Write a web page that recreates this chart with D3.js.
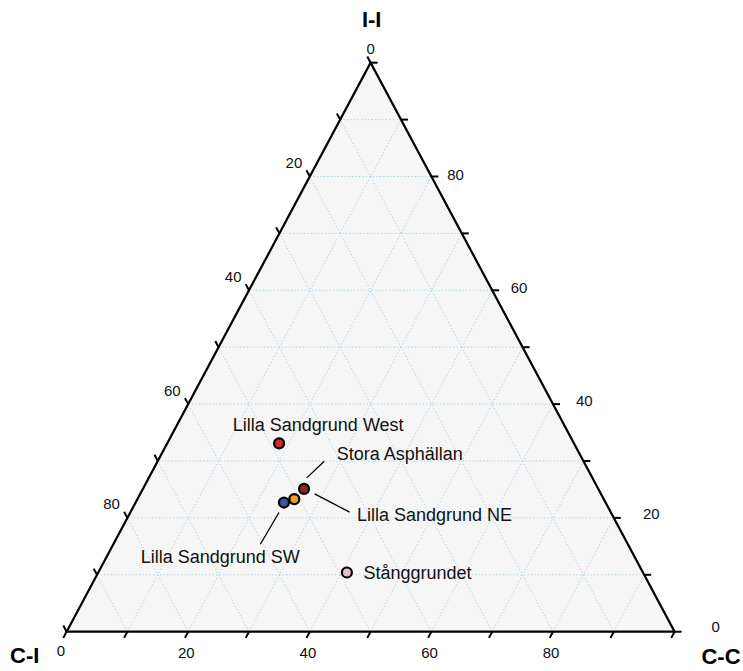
<!DOCTYPE html>
<html>
<head>
<meta charset="utf-8">
<script src="https://cdn.jsdelivr.net/npm/d3@7"></script>
<style>
  body { margin: 0; background: #fff; }
  svg { display: block; font-family: 'Liberation Sans', Arial, sans-serif; }
</style>
</head>
<body>
<svg id="chart" width="743" height="671"></svg>
<script>
// data (percent of each component)
const sites = ['Lilla Sandgrund West', 'Stora Asphällan', 'Lilla Sandgrund NE', 'Lilla Sandgrund SW', 'Stånggrundet'];
const iiVals = [33.1, 25.1, 23.3, 22.7, 10.4];
const ccVals = [18.4, 26.5, 25.8, 24.4, 40.9];
const ciVals = [48.5, 48.4, 50.9, 52.9, 48.7];
const siteColors = ['#d12a2a', '#8b2626', '#e8a21d', '#3656a6', '#ebb9c5'];
const tickValues = [0, 10, 20, 30, 40, 50, 60, 70, 80, 90, 100];
const labelValues = [0, 20, 40, 60, 80];
const gridValues = [10, 20, 30, 40, 50, 60, 70, 80, 90];

// label placement for the site names (pixel nudges from the point)
const labelNudge = [
  { dx: -46.3, dy: -12.3, line: null },
  { dx: 32.7, dy: -28.7, line: [2.7, -11, 20.3, -27.7] },
  { dx: 62.7, dy: 21.4, line: [20.3, -5.3, 55.3, 13] },
  { dx: -143.3, dy: 60.4, line: [-5, 10, -23.6, 41.7] },
  { dx: 16.6, dy: 6, line: null }
];

const width = 743;
const height = 671;
const mLeft = 66.6, mRight = 674.6, mTop = 62.7, mBottom = 631.7;

const xScale = d3.scaleLinear().domain([0, 100]).range([mLeft, mRight]);
const yScale = d3.scaleLinear().domain([0, 100]).range([mBottom, mTop]);

// ternary -> pixel (ci, ii, cc)
const proj = (ci, ii, cc) => {
  const s = ci + ii + cc;
  const i = ii / s * 100, c = cc / s * 100;
  return [xScale(c + i / 2), yScale(i)];
};

const svg = d3.select('#chart');
svg.append('rect').attr('width', width).attr('height', height).attr('fill', '#fff');

const corners = [proj(100, 0, 0), proj(0, 100, 0), proj(0, 0, 100)];

svg.append('path')
  .attr('d', d3.line()(corners) + 'Z')
  .attr('fill', '#f6f6f6');

// grid
const gridSegs = [];
gridValues.forEach(k => {
  gridSegs.push([proj(100 - k, k, 0), proj(0, k, 100 - k)]);   // const I-I
  gridSegs.push([proj(100 - k, 0, k), proj(0, 100 - k, k)]);   // const C-C
  gridSegs.push([proj(k, 0, 100 - k), proj(k, 100 - k, 0)]);   // const C-I
});
svg.append('g')
  .selectAll('line')
  .data(gridSegs)
  .join('line')
  .attr('x1', d => d[0][0]).attr('y1', d => d[0][1])
  .attr('x2', d => d[1][0]).attr('y2', d => d[1][1])
  .attr('stroke', '#a8d4ea')
  .attr('stroke-width', 1)
  .attr('stroke-dasharray', '1.3,2.2');

svg.append('path')
  .attr('d', d3.line()(corners) + 'Z')
  .attr('fill', 'none')
  .attr('stroke', '#000')
  .attr('stroke-width', 2.2)
  .attr('stroke-linejoin', 'miter');

// tick directions
const unit = (a, b) => {
  const dx = b[0] - a[0], dy = b[1] - a[1];
  const l = Math.hypot(dx, dy);
  return [dx / l, dy / l];
};
const tickLen = 7;
const leftDir = unit(corners[2], corners[1]);   // up-left, parallel to right edge
const bottomDir = unit(corners[1], corners[0]); // down-left, parallel to left edge
const rightDir = [1, 0];

const axes = [
  { name: 'ci', pos: v => proj(v, 100 - v, 0), dir: leftDir },
  { name: 'ii', pos: v => proj(0, v, 100 - v), dir: rightDir },
  { name: 'cc', pos: v => proj(100 - v, 0, v), dir: bottomDir }
];

axes.forEach(ax => {
  svg.append('g')
    .selectAll('line')
    .data(tickValues)
    .join('line')
    .attr('x1', v => ax.pos(v)[0])
    .attr('y1', v => ax.pos(v)[1])
    .attr('x2', v => ax.pos(v)[0] + ax.dir[0] * tickLen)
    .attr('y2', v => ax.pos(v)[1] + ax.dir[1] * tickLen)
    .attr('stroke', '#000')
    .attr('stroke-width', 2);
});

const tickFont = 15;

// left axis labels (C-I)
svg.append('g')
  .selectAll('text')
  .data(labelValues)
  .join('text')
  .attr('x', v => v === 0 ? axes[0].pos(v)[0] : axes[0].pos(v)[0] - 7.5)
  .attr('y', v => axes[0].pos(v)[1] - 14 + 5.4)
  .attr('text-anchor', v => v === 0 ? 'middle' : 'end')
  .attr('font-size', tickFont)
  .attr('fill', '#111')
  .text(v => v);

// right axis labels (I-I)
svg.append('g')
  .selectAll('text')
  .data(labelValues)
  .join('text')
  .attr('x', v => axes[1].pos(v)[0] + 15 + 0.0022 * (100 - v) * (100 - v))
  .attr('y', v => axes[1].pos(v)[1] - (1 + 0.04 * (100 - v)) + 5.4)
  .attr('text-anchor', 'start')
  .attr('font-size', tickFont)
  .attr('fill', '#111')
  .text(v => v);

// bottom axis labels (C-C)
svg.append('g')
  .selectAll('text')
  .data(labelValues)
  .join('text')
  .attr('x', v => axes[2].pos(v)[0] - (v === 0 ? 5.6 : 1.9))
  .attr('y', v => v === 0 ? 655.7 : 657.7)
  .attr('text-anchor', 'middle')
  .attr('font-size', tickFont)
  .attr('fill', '#111')
  .text(v => v);

// axis titles
const titles = [
  { t: 'I-I', x: 371.7, y: 26.7 },
  { t: 'C-I', x: 24.7, y: 663.3 },
  { t: 'C-C', x: 721, y: 664 }
];
svg.append('g')
  .selectAll('text')
  .data(titles)
  .join('text')
  .attr('x', d => d.x).attr('y', d => d.y)
  .attr('text-anchor', 'middle')
  .attr('font-size', 22)
  .attr('font-weight', 'bold')
  .attr('fill', '#000')
  .text(d => d.t);

// points
const pts = sites.map((s, i) => ({
  name: s,
  color: siteColors[i],
  xy: proj(ciVals[i], iiVals[i], ccVals[i]),
  nudge: labelNudge[i]
}));

svg.append('g')
  .selectAll('line')
  .data(pts.filter(d => d.nudge.line))
  .join('line')
  .attr('x1', d => d.xy[0] + d.nudge.line[0])
  .attr('y1', d => d.xy[1] + d.nudge.line[1])
  .attr('x2', d => d.xy[0] + d.nudge.line[2])
  .attr('y2', d => d.xy[1] + d.nudge.line[3])
  .attr('stroke', '#000')
  .attr('stroke-width', 1.3);

svg.append('g')
  .selectAll('circle')
  .data(pts)
  .join('circle')
  .attr('cx', d => d.xy[0])
  .attr('cy', d => d.xy[1])
  .attr('r', 5)
  .attr('fill', d => d.color)
  .attr('stroke', '#000')
  .attr('stroke-width', 2.2);

svg.append('g')
  .selectAll('text')
  .data(pts)
  .join('text')
  .attr('x', d => d.xy[0] + d.nudge.dx)
  .attr('y', d => d.xy[1] + d.nudge.dy)
  .attr('font-size', 18)
  .attr('fill', '#111')
  .text(d => d.name);
</script>
</body>
</html>
